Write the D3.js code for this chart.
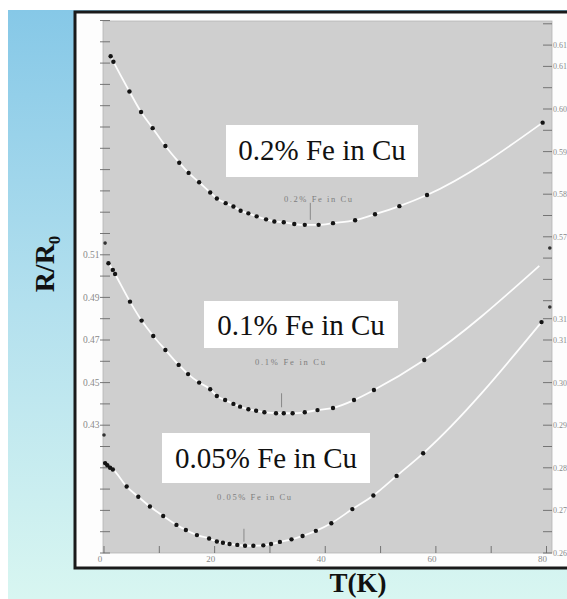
<!DOCTYPE html>
<html><head><meta charset="utf-8">
<script src="https://cdn.jsdelivr.net/npm/d3@7"></script>
<style>html,body{margin:0;padding:0;background:#fff;overflow:hidden}</style>
</head><body><svg id="c" width="567" height="599"></svg>
<script>
// ---- data ----
const seriesNames = ["0.2% Fe in Cu", "0.1% Fe in Cu", "0.05% Fe in Cu"];
const T02 = [1.2,1.7,4.6,6.7,8.8,11.1,13.6,15.3,17.2,19.2,20.4,22.0,23.4,24.7,26.1,27.6,29.3,30.8,32.5,34.4,36.3,38.8,41.4,45.4,49.0,53.4,58.4,79.3];
const R02 = [0.6124,0.6111,0.6041,0.5993,0.5955,0.5913,0.5874,0.5850,0.5828,0.5804,0.5790,0.5779,0.5771,0.5761,0.5755,0.5748,0.5741,0.5736,0.5734,0.5730,0.5728,0.5728,0.5732,0.5739,0.5753,0.5772,0.5798,0.5968];
const T01 = [0.8,1.6,2.0,4.7,6.8,8.9,11.1,13.5,15.2,17.2,19.2,20.4,21.9,23.4,24.6,26.1,27.5,29.0,31.1,32.5,34.1,36.3,38.6,41.4,45.2,48.8,57.9];
const R01 = [0.5060,0.5029,0.5010,0.4880,0.4791,0.4719,0.4653,0.4583,0.4540,0.4500,0.4469,0.4437,0.4418,0.4400,0.4387,0.4375,0.4368,0.4361,0.4356,0.4356,0.4356,0.4361,0.4371,0.4381,0.4418,0.4465,0.4606];
const T01end = [78.7];
const R01end = [0.5048];
const T005 = [0.2,0.6,1.1,1.6,4.1,6.2,8.3,10.7,13.1,14.8,16.8,19.0,20.4,21.5,22.7,24.1,25.5,27.0,28.8,30.2,31.8,33.9,35.9,38.3,41.1,44.9,48.7,52.9,57.7,79.1];
const R005 = [0.2811,0.2806,0.2800,0.2796,0.2756,0.2732,0.2709,0.2687,0.2666,0.2654,0.2642,0.2634,0.2627,0.2624,0.2621,0.2619,0.2617,0.2617,0.2618,0.2621,0.2626,0.2632,0.2640,0.2652,0.2670,0.2703,0.2735,0.2781,0.2834,0.3142];
const minT = [37.3, 32.1, 25.3];
const strayT = [80.6, 80.6, 0.0, 0.2];
const strayR = [0.5132, 0.4855, 0.4254, 0.5155];   // on left-axis scale
const xTicks = [0,10,20,30,40,50,60,70,80];
const xTickLabels = ["0","20","40","60","80"];
const leftLabels = ["0.51","0.49","0.47","0.45","0.43"];
const rightTopLabels = ["0.615","0.61","0.60","0.59","0.58","0.57"];
const rightBotLabels = ["0.315","0.31","0.30","0.29","0.28","0.27","0.26"];

// ---- drawing ----
const SERIF = "'Liberation Serif', 'Times New Roman', Times, serif";
const svg = d3.select("#c");
const defs = svg.append("defs");
const g = defs.append("linearGradient").attr("id","bg").attr("x1",0).attr("y1",0).attr("x2",0).attr("y2",1);
g.append("stop").attr("offset","0%").attr("stop-color","#86c8e7");
g.append("stop").attr("offset","50%").attr("stop-color","#b3e0ee");
g.append("stop").attr("offset","100%").attr("stop-color","#d8f6f1");
svg.append("rect").attr("x",8).attr("y",10).attr("width",559).attr("height",589).attr("fill","url(#bg)");

// white frame
svg.append("rect").attr("x",75).attr("y",12).attr("width",500).attr("height",556)
  .attr("fill","#fdfdfd").attr("stroke","#1a1a1a").attr("stroke-width",3);

const L=103, R=552, TOP=21, BOT=553;
svg.append("rect").attr("x",L).attr("y",TOP).attr("width",R-L).attr("height",BOT-TOP)
  .attr("fill","#cfcfcf").attr("stroke","#b5b5b5").attr("stroke-width",0.8);

const x = d3.scaleLinear().domain([0,80]).range([104,546.5]);
const yLeft = d3.scaleLinear().domain([0.37,0.62]).range([553,20.5]);
const yTop = d3.scaleLinear().domain([0.60,0.57]).range([109,236.8]);
const yBot = d3.scaleLinear().domain([0.26,0.30]).range([553,382.6]);

const tickCol = "#6a6a6a", labCol = "#8a8a8a";
// left axis ticks
const lt = d3.range(0.37, 0.6201, 0.01);
svg.append("g").selectAll("line").data(lt).join("line")
  .attr("x1",100).attr("x2",110).attr("y1",d=>yLeft(d)).attr("y2",d=>yLeft(d))
  .attr("stroke",tickCol).attr("stroke-width",0.9);
svg.append("g").selectAll("text").data(leftLabels).join("text")
  .attr("x",99.5).attr("y",d=>yLeft(+d)+3.2).attr("text-anchor","end")
  .style("font-family",SERIF).attr("font-size",9.5).attr("fill",labCol).text(d=>d);

// right axis ticks
const rtTop = d3.range(0.555, 0.6201, 0.005);
const rtBot = d3.range(0.26, 0.3151, 0.005);
const rg = svg.append("g");
rg.selectAll("line.t").data(rtTop).join("line").attr("class","t")
  .attr("x1",543).attr("x2",552).attr("y1",d=>yTop(d)).attr("y2",d=>yTop(d))
  .attr("stroke",tickCol).attr("stroke-width",0.9);
rg.selectAll("line.b").data(rtBot).join("line").attr("class","b")
  .attr("x1",543).attr("x2",552).attr("y1",d=>yBot(d)).attr("y2",d=>yBot(d))
  .attr("stroke",tickCol).attr("stroke-width",0.9);
rg.selectAll("text.t").data(rightTopLabels).join("text").attr("class","t")
  .attr("x",553).attr("y",d=>yTop(+d)+3).style("font-family",SERIF)
  .attr("font-size",8).attr("fill",labCol).text(d=>d);
rg.selectAll("text.b").data(rightBotLabels).join("text").attr("class","b")
  .attr("x",553).attr("y",d=>yBot(+d)+3).style("font-family",SERIF)
  .attr("font-size",8).attr("fill",labCol).text(d=>d);

// x axis ticks
svg.append("g").selectAll("line").data(xTicks).join("line")
  .attr("x1",d=>x(d)).attr("x2",d=>x(d)).attr("y1",553).attr("y2",546)
  .attr("stroke",tickCol).attr("stroke-width",0.9);
svg.append("g").selectAll("text").data(xTickLabels).join("text")
  .attr("x",d=>x(+d)-4).attr("y",561.5).attr("text-anchor","middle")
  .style("font-family",SERIF).attr("font-size",9).attr("fill",labCol).text(d=>d);

// curves
const series = [
  {T:T02, R:R02, y:yTop, lineT:T02, lineR:R02},
  {T:T01, R:R01, y:yLeft, lineT:T01.concat(T01end), lineR:R01.concat(R01end)},
  {T:T005, R:R005, y:yBot, lineT:T005, lineR:R005}
];
const markOff = [[-22,-5],[-20,-6],[-17,-4]];
series.forEach((s,i)=>{
  const line = d3.line().x(d=>x(d[0])).y(d=>s.y(d[1])).curve(d3.curveMonotoneX);
  svg.append("path").datum(s.lineT.map((t,k)=>[t,s.lineR[k]]))
    .attr("d",line).attr("fill","none").attr("stroke","#ffffff").attr("stroke-width",1.8).attr("opacity",0.95);
  svg.append("g").selectAll("circle").data(s.T.map((t,k)=>[t,s.R[k]])).join("circle")
    .attr("cx",d=>x(d[0])).attr("cy",d=>s.y(d[1])).attr("r",2.2).attr("fill","#141414");
  const vmin = d3.min(s.R);
  svg.append("line").attr("x1",x(minT[i])).attr("x2",x(minT[i]))
    .attr("y1",s.y(vmin)+markOff[i][0]).attr("y2",s.y(vmin)+markOff[i][1])
    .attr("stroke","#777").attr("stroke-width",0.8);
});
svg.append("g").selectAll("circle").data(strayT.map((t,k)=>[t,strayR[k]])).join("circle")
  .attr("cx",d=>x(d[0])).attr("cy",d=>yLeft(d[1])).attr("r",1.8).attr("fill","#333");

// label boxes
const boxes = [
  {bx:226, by:125, bw:192, bh:52, cx:322, ty:160, sx:318, sy:202, sw:68},
  {bx:204, by:301, bw:194, bh:47, cx:301, ty:335, sx:290, sy:365, sw:70},
  {bx:162, by:433, bw:208, bh:50, cx:266, ty:468, sx:254, sy:500, sw:74}
];
boxes.forEach((b,i)=>{
  svg.append("rect").attr("x",b.bx).attr("y",b.by).attr("width",b.bw).attr("height",b.bh).attr("fill","#fff");
  svg.append("text").attr("x",b.cx).attr("y",b.ty).attr("text-anchor","middle")
    .style("font-family",SERIF).attr("font-size",29).attr("fill","#111").text(seriesNames[i]);
  svg.append("text").attr("x",b.sx - b.sw/2).attr("y",b.sy).style("font-family",SERIF)
    .attr("font-size",8.5).attr("fill","#7e7e7e").attr("textLength",b.sw).attr("lengthAdjust","spacing")
    .text(seriesNames[i]);
});

// axis titles
svg.append("text").attr("x",358).attr("y",592).attr("text-anchor","middle")
  .style("font-family",SERIF).attr("font-weight","bold").attr("font-size",27).attr("fill","#111").text("T(K)");
const yt = svg.append("text").attr("transform","translate(54,264) rotate(-90)").attr("text-anchor","middle")
  .style("font-family",SERIF).attr("font-weight","bold").attr("font-size",28).attr("fill","#111");
yt.append("tspan").text("R/R");
yt.append("tspan").attr("font-size",17).attr("dy",6).text("0");
</script></body></html>
